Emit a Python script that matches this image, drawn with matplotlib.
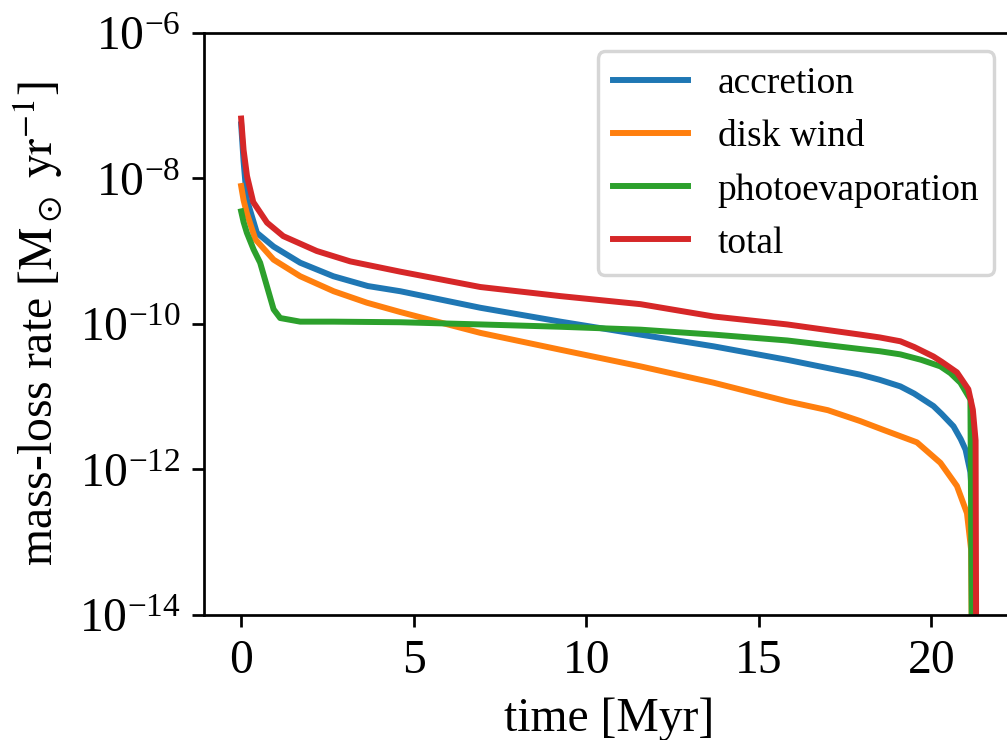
import matplotlib
matplotlib.use("Agg")
import matplotlib.pyplot as plt
import matplotlib.ticker as mticker
import numpy as np

plt.rcParams['font.family'] = ['Liberation Serif', 'DejaVu Serif']
plt.rcParams['mathtext.fontset'] = 'stix'
plt.rcParams['font.size'] = 14

# time [Myr] and mass-loss rates [Msun/yr]
t_acc = [0.0, 0.07, 0.165, 0.455, 0.94, 1.71, 2.67, 3.67, 4.61, 6.93, 9.25, 11.57,
         13.69, 15.82, 17.94, 18.5, 19.1, 19.5, 20.06, 20.3, 20.64, 20.85, 20.99,
         21.13, 21.18, 21.2]
accretion = [5.5e-8, 1.7e-8, 5.1e-9, 1.78e-9, 1.15e-9, 6.9e-10, 4.5e-10, 3.3e-10, 2.8e-10,
             1.66e-10, 1.07e-10, 7.1e-11, 4.9e-11, 3.2e-11, 2.0e-11, 1.7e-11, 1.38e-11,
             1.1e-11, 7.4e-12, 5.75e-12, 3.9e-12, 2.6e-12, 1.86e-12, 9.1e-13, 3.9e-13, 1e-15]

t_wind = [0.0, 0.07, 0.165, 0.41, 0.94, 1.71, 2.68, 3.64, 4.61, 6.93, 9.25, 11.57, 13.69,
          15.82, 17.0, 17.94, 18.6, 19.58, 20.26, 20.74, 21.03, 21.15, 21.18]
disk_wind = [7.8e-9, 5.0e-9, 3.3e-9, 1.45e-9, 7.6e-10, 4.5e-10, 2.8e-10, 1.95e-10, 1.45e-10,
             7.5e-11, 4.4e-11, 2.6e-11, 1.55e-11, 8.6e-12, 6.5e-12, 4.6e-12, 3.5e-12,
             2.35e-12, 1.23e-12, 5.9e-13, 2.5e-13, 7.9e-14, 1e-15]

t_pe = [0.0, 0.07, 0.165, 0.36, 0.55, 0.94, 1.13, 1.71, 2.67, 4.61, 6.93, 9.25, 11.57,
        13.69, 15.82, 17.94, 18.5, 19.1, 19.7, 20.26, 20.55, 20.84, 21.13, 21.18]
photoevap = [3.5e-9, 2.5e-9, 1.78e-9, 1.05e-9, 6.9e-10, 1.58e-10, 1.2e-10, 1.07e-10,
             1.07e-10, 1.05e-10, 9.8e-11, 9.1e-11, 8.3e-11, 7.1e-11, 5.9e-11, 4.5e-11,
             4.2e-11, 3.8e-11, 3.2e-11, 2.6e-11, 2.1e-11, 1.55e-11, 9.1e-12, 1e-15]

t_tot = [0.0, 0.07, 0.17, 0.35, 0.75, 1.22, 2.19, 3.16, 4.61, 6.93, 9.25, 11.57, 13.69,
         15.82, 17.94, 18.5, 19.1, 19.5, 20.06, 20.3, 20.74, 20.9, 21.07, 21.2, 21.28, 21.3]
total = [6.6e-8, 2.45e-8, 1.07e-8, 4.7e-9, 2.45e-9, 1.6e-9, 1.0e-9, 7.2e-10, 5.2e-10,
         3.2e-10, 2.4e-10, 1.86e-10, 1.26e-10, 9.8e-11, 7.1e-11, 6.5e-11, 5.75e-11,
         4.8e-11, 3.55e-11, 3.0e-11, 2.15e-11, 1.66e-11, 1.26e-11, 6.6e-12, 2.5e-12, 1e-15]

yticks = [1e-14, 1e-12, 1e-10, 1e-8, 1e-6]
xticks = [0, 5, 10, 15, 20]

fig = plt.figure(figsize=(1007.4 / 245, 740.4 / 245), dpi=245)
ax = fig.add_axes([0.2029, 0.1689, 0.8027, 0.7865])

ax.plot(t_acc, accretion, lw=1.75, label='accretion')
ax.plot(t_wind, disk_wind, lw=1.75, label='disk wind')
ax.plot(t_pe, photoevap, lw=1.75, label='photoevaporation')
ax.plot(t_tot, total, lw=1.75, label='total')

ax.set_yscale('log')
ax.set_yticks(yticks)
ax.yaxis.set_minor_locator(mticker.NullLocator())
ax.set_ylim(1e-14, 1e-6)
ax.set_xticks(xticks)
ax.set_xlim(-1.065, 22.365)

ax.set_xlabel('time [Myr]')
ax.set_ylabel(r'mass-loss rate [$\mathrm{M_\odot\ yr^{-1}}$]')
ax.legend(loc='upper right', fontsize=11)

fig.savefig('out.png', dpi=245)
